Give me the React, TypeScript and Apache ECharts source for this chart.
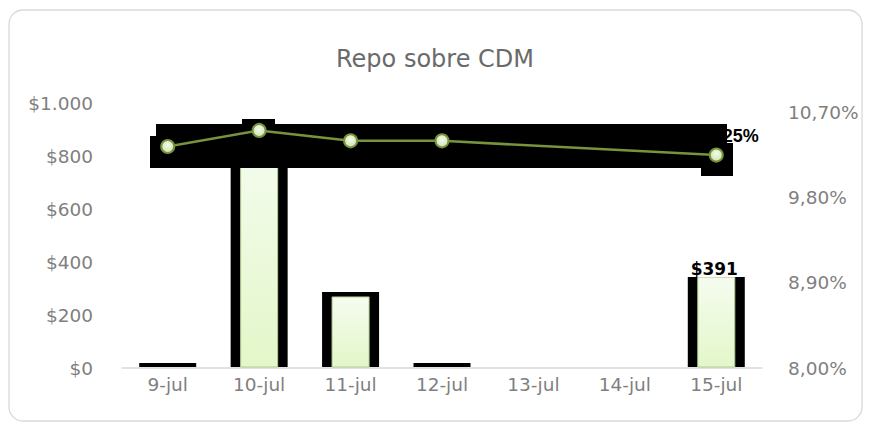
import React, { useEffect, useRef } from 'react';
import * as echarts from 'echarts';

const categories = ['9-jul', '10-jul', '11-jul', '12-jul', '13-jul', '14-jul', '15-jul'];
const repoAmounts: (number | null)[] = [0, 880, 268, 0, null, null, 343];
const repoLabels = ['', '', '', '', '', '', '$391'];
const repoRates: (number | null)[] = [10.34, 10.51, 10.4, 10.4, null, null, 10.25];
const rateLabelShown = [false, false, false, false, false, false, true];

const GREY = '#7f7f7f';
const AXIS_FONT = 'DejaVu Sans';

const fmtMoney = (v: number) => '$' + String(v).replace(/\B(?=(\d{3})+(?!\d))/g, '.');
const fmtRate = (v: number) => v.toFixed(2).replace('.', ',') + '%';

export default function App() {
  const ref = useRef<HTMLDivElement>(null);
  useEffect(() => {
    if (!ref.current) return;
    const chart = echarts.init(ref.current, undefined, { renderer: 'svg' });

    const fillGradient = new echarts.graphic.LinearGradient(0, 0, 0, 1, [
      { offset: 0, color: '#f5fcef' },
      { offset: 1, color: '#e3f7c9' },
    ]);

    const OUTER_W = 57;
    const INNER_W = 37;
    const TOP_EDGE = 5;

    const renderBar = (params: any, api: any) => {
      const idx = api.value(0);
      const v = api.value(1);
      if (v == null || isNaN(v)) return null;
      const top = api.coord([idx, v]);
      const base = api.coord([idx, 0]);
      const cx = top[0];
      const bottom = base[1] - 1;
      const children: any[] = [
        {
          type: 'rect',
          shape: { x: cx - OUTER_W / 2, y: top[1] - TOP_EDGE, width: OUTER_W, height: bottom - top[1] + TOP_EDGE },
          style: { fill: '#000000' },
        },
      ];
      if (bottom - top[1] > 0.5) {
        children.push({
          type: 'rect',
          shape: { x: cx - INNER_W / 2, y: top[1], width: INNER_W, height: bottom - top[1] },
          style: { fill: fillGradient, stroke: '#b4cc92', lineWidth: 1 },
        });
      }
      const lbl = repoLabels[params.dataIndex];
      if (lbl) {
        children.push({
          type: 'text',
          x: cx - 2,
          y: top[1],
          style: {
            text: lbl,
            align: 'center',
            verticalAlign: 'bottom',
            fill: '#000000',
            fontWeight: 'bold',
            fontFamily: AXIS_FONT,
            fontSize: 17,
            backgroundColor: '#ffffff',
            padding: [1, 8, 0, 8],
          },
        });
      }
      return { type: 'group', children };
    };

    const lineData = repoRates.map((v, i) => ({
      value: v,
      label: rateLabelShown[i]
        ? {
            show: true,
            position: 'top',
            distance: 3,
            offset: [12, 0],
            color: '#000000',
            fontWeight: 'bold',
            fontFamily: 'Liberation Sans',
            fontSize: 18,
            formatter: (p: any) => fmtRate(p.value),
          }
        : { show: false },
    }));

    const black = { fill: '#000000' };

    chart.setOption({
      animation: false,
      backgroundColor: '#ffffff',
      title: {
        text: 'Repo sobre CDM',
        left: 'center',
        top: 42,
        textStyle: { fontFamily: AXIS_FONT, fontSize: 24, fontWeight: 'normal', color: '#6a6a6a' },
      },
      graphic: [
        {
          type: 'rect',
          z: 0,
          shape: { x: 9, y: 10, width: 853, height: 411, r: 14 },
          style: { fill: 'none', stroke: '#d9d9d9', lineWidth: 1.3 },
          silent: true,
        },
        { type: 'rect', z: 3, shape: { x: 156, y: 124, width: 571, height: 44 }, style: black, silent: true },
        { type: 'rect', z: 3, shape: { x: 150, y: 136, width: 7, height: 32 }, style: black, silent: true },
        { type: 'rect', z: 3, shape: { x: 242, y: 119, width: 33, height: 6 }, style: black, silent: true },
        { type: 'rect', z: 3, shape: { x: 701, y: 143, width: 32, height: 33 }, style: black, silent: true },
      ],
      grid: { left: 122, right: 108, top: 103, bottom: 55 },
      xAxis: {
        type: 'category',
        data: categories,
        axisTick: { show: false },
        axisLine: { lineStyle: { color: '#d9d9d9', width: 1.5 } },
        axisLabel: { color: GREY, fontFamily: AXIS_FONT, fontSize: 18.5, margin: 7 },
      },
      yAxis: [
        {
          type: 'value',
          min: 0,
          max: 1000,
          interval: 200,
          splitLine: { show: false },
          axisLine: { show: false },
          axisTick: { show: false },
          axisLabel: { color: GREY, fontFamily: AXIS_FONT, fontSize: 18.5, margin: 29, formatter: fmtMoney },
        },
        {
          type: 'value',
          min: 8,
          max: 10.8,
          interval: 0.9,
          splitLine: { show: false },
          axisLine: { show: false },
          axisTick: { show: false },
          axisLabel: {
            color: GREY,
            fontFamily: AXIS_FONT,
            fontSize: 18.5,
            margin: 26,
            showMaxLabel: false,
            formatter: (v: number) => fmtRate(v),
          },
        },
      ],
      series: [
        {
          type: 'custom',
          name: 'Repo',
          z: 2,
          renderItem: renderBar,
          encode: { x: 0, y: 1 },
          data: repoAmounts.map((v, i) => [i, v]),
        },
        {
          type: 'line',
          name: 'Tasa',
          yAxisIndex: 1,
          data: lineData,
          connectNulls: true,
          z: 5,
          symbol: 'circle',
          symbolSize: 13,
          lineStyle: { color: '#77933c', width: 2.5 },
          itemStyle: {
            color: new echarts.graphic.RadialGradient(0.5, 0.4, 0.6, [
              { offset: 0, color: '#f3faea' },
              { offset: 1, color: '#cfe4b0' },
            ]),
            borderColor: '#77933c',
            borderWidth: 2,
          },
        },
      ],
    });
    return () => chart.dispose();
  }, []);

  return (
    <div
      ref={ref}
      style={{ position: 'fixed', left: 0, top: 0, width: 870, height: 423, background: '#fff' }}
    />
  );
}
